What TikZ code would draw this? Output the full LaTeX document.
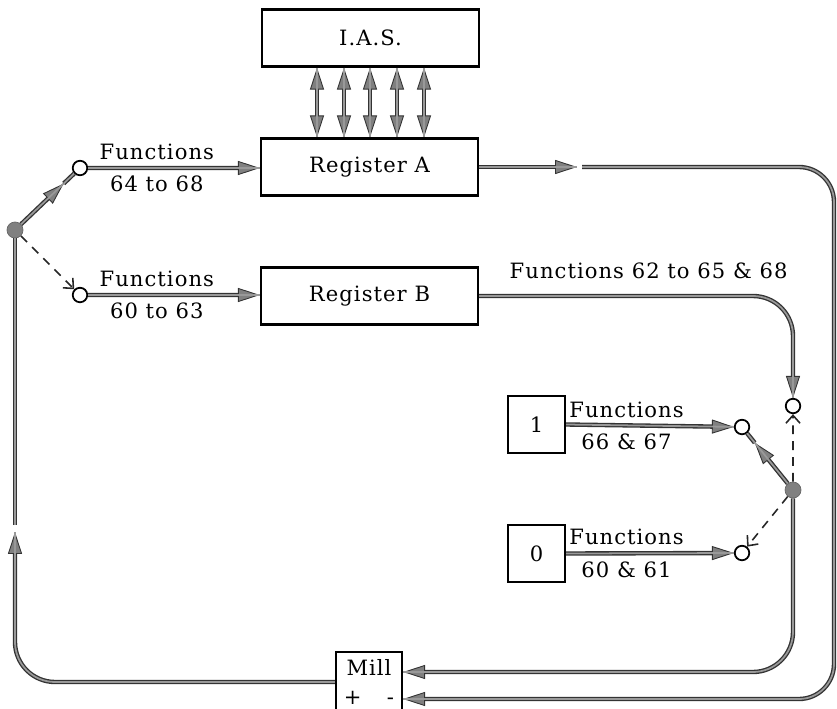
\documentclass[tikz,border=0pt]{standalone}
\usepackage{fontspec}
\setmainfont[LetterSpace=5]{DejaVu Serif}
\usetikzlibrary{arrows.meta,calc}
\begin{document}
\begin{tikzpicture}[scale=0.2,
		every node/.style={font=\fontsize{12}{16}\selectfont},
		wire/.style={draw=black!80, line width=2.5pt, postaction={draw=gray!80, line width=1pt, -}},
		Head/.tip={Triangle[length=12.5pt, width=8pt, fill=gray, line width=0.5pt]},
		box/.style={draw, line width=1.3pt, minimum width=43.4mm, minimum height=11.4mm},
		bit/.style={draw, line width=1.3pt, minimum size=11.4mm},
		port/.style={circle, draw, fill=white, line width=1pt, minimum size=2.9mm, inner sep=0pt},
		hub/.style={circle, fill=gray, draw=gray!80!black, line width=0.4pt, minimum size=3.2mm, inner sep=0pt},
		swline/.style={draw=black!85, line width=0.9pt, dash pattern=on 5pt off 4pt, -{Straight Barb[length=4.5pt, width=8pt]}}]
	\useasboundingbox (0,0) rectangle (83.7,-70.8);
	\node [box] (ias) at (37.05,-3.8) {I.A.S.};
	\node [box] (rega) at (36.95,-16.7) {Register A};
	\node [box] (regb) at (36.95,-29.6) {Register B};
	\node [bit] (one) at (53.65,-42.45) {1};
	\node [bit] (zero) at (53.65,-55.35) {0};
	\node [draw, line width=1.3pt, minimum width=13.2mm, minimum height=12mm, inner xsep=1pt, align=center] (mill) at (36.9,-68.2) {Mill\\+\hspace{1.2em}-};
	\node [hub] (hubl) at (1.5,-23) {};
	\node [hub] (hubr) at (79.3,-49) {};
	\node [port] (ina) at (8,-16.8) {};
	\node [port] (inb) at (8,-29.5) {};
	\node [port] (inr) at (79.3,-40.6) {};
	\node [port] (ino) at (74.2,-42.7) {};
	\node [port] (inz) at (74.2,-55.3) {};
	\coordinate (ta) at (57.7,-16.7);
	\coordinate (tb) at (58.2,-16.7);
	\coordinate (co) at (83.4,-69.9);
	\coordinate (ci) at (79.3,-67.2);
	\coordinate (tl) at (1.5,-53.2);
	\coordinate (tm) at (1.5,-52.5);
	\coordinate (ml) at ($(hubl)!0.75!(ina)$);
	\coordinate (mr) at ($(hubr)!0.75!(ino)$);
	\foreach \x in {31.7,34.4,37,39.7,42.4}
		\draw [wire, Head-Head] (\x,0 |- ias.south) -- (\x,0 |- rega.north);
	\draw [wire, -Head] (ina) -- (ina -| rega.west) node [pos=0.4, above] {Functions} node [pos=0.4, below] {64 to 68};
	\draw [wire, -Head] (inb) -- (inb -| regb.west) node [pos=0.4, above] {Functions} node [pos=0.4, below] {60 to 63};
	\draw [wire, -Head] (rega.east) -- (ta);
	\draw [wire, -Head, rounded corners=7mm] (tb) -| (co) -- (co -| mill.east);
	\draw [wire, -Head, rounded corners=8mm] (regb.east) -| (inr.north) node [pos=0.27, above=5pt] {Functions 62 to 65 \& 68};
	\draw [swline] (hubr) -- (inr);
	\draw [swline] (hubr) -- (inz);
	\draw [swline] (hubl) -- (inb);
	\draw [wire, -Head] (hubr) -- (mr);
	\draw [wire] (mr) -- (ino);
	\draw [wire, -Head] (hubl) -- (ml);
	\draw [wire] (ml) -- (ina);
	\draw [wire, -Head] (one.east) -- (ino) node [pos=0.36, above] {Functions} node [pos=0.36, below] {66 \& 67};
	\draw [wire, -Head] (zero.east) -- (inz) node [pos=0.36, above] {Functions} node [pos=0.36, below] {60 \& 61};
	\draw [wire, -Head, rounded corners=8mm] (hubr) -- (ci) -- (ci -| mill.east);
	\draw [wire, -Head, rounded corners=8mm] (mill.west) -| (tl);
	\draw [wire] (tm) -- (hubl);
\end{tikzpicture}
\end{document}
